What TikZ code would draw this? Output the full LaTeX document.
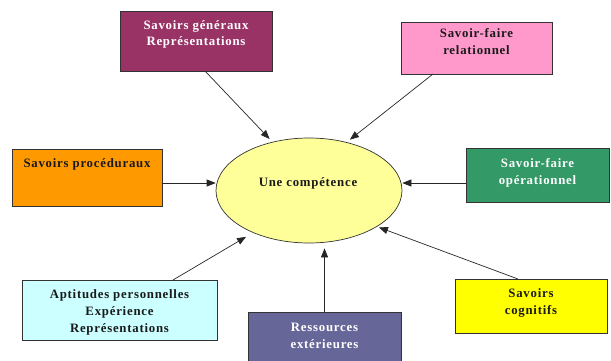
\documentclass[tikz,border=0pt]{standalone}
\usepackage{fontspec}
\setmainfont{Liberation Serif}[LetterSpace=6]
\usetikzlibrary{arrows.meta,shapes.geometric}
\definecolor{cB1}{HTML}{993366}
\definecolor{cB2}{HTML}{FF99CC}
\definecolor{cB3}{HTML}{FF9900}
\definecolor{cB4}{HTML}{339966}
\definecolor{cB5}{HTML}{CCFFFF}
\definecolor{cB6}{HTML}{666699}
\definecolor{cB7}{HTML}{FFFF00}
\definecolor{cE}{HTML}{FFFF99}
\definecolor{cT}{HTML}{1A1A1A}
\begin{document}
\begin{tikzpicture}[x=1pt,y=-1pt,
  box/.style={draw=black!80, line width=0.7pt, rectangle, inner sep=0pt, outer sep=0pt},
  lbl/.style={anchor=base, align=center, inner sep=0pt, text=cT, font=\bfseries\fontsize{12.8}{17}\selectfont},
  arr/.style={-{Triangle[length=9pt,width=7pt]}, line width=0.7pt, draw=black!85}]
\useasboundingbox (0,0) rectangle (611,361);
% boxes
\node[box, fill=cB1, minimum width=152, minimum height=60] (b1) at (196,41) {};
\node[box, fill=cB2, minimum width=151, minimum height=52] (b2) at (476.5,48) {};
\node[box, fill=cB3, minimum width=150, minimum height=57] (b3) at (87,177.5) {};
\node[box, fill=cB4, minimum width=143, minimum height=54] (b4) at (537.5,175) {};
\node[box, fill=cB5, minimum width=195, minimum height=60] (b5) at (119.5,310) {};
\node[box, fill=cB6, minimum width=153, minimum height=52] (b6) at (324.5,338) {};
\node[box, fill=cB7, minimum width=152, minimum height=54] (b7) at (531,306) {};
% ellipse
\node[ellipse, draw=black!80, line width=0.7pt, fill=cE, minimum width=186, minimum height=105, inner sep=0pt] (e) at (309,190.5) {};
% labels (anchor base = baseline of the last line)
\node[lbl, text=white] (t1) at ([yshift=-35pt]b1.north) {Savoirs généraux\\Représentations};
\node[lbl] (t2) at ([yshift=-33pt]b2.north) {Savoir-faire\\relationnel};
\node[lbl] (t3) at ([yshift=-18pt]b3.north) {Savoirs procéduraux};
\node[lbl, text=white] (t4) at ([yshift=-36pt]b4.north) {Savoir-faire\\opérationnel};
\node[lbl] (t5) at ([yshift=-52pt]b5.north) {Aptitudes personnelles\\Expérience\\Représentations};
\node[lbl, text=white] (t6) at ([yshift=-36pt]b6.north) {Ressources\\extérieures};
\node[lbl] (t7) at ([yshift=-35pt]b7.north) {Savoirs\\cognitifs};
\node[lbl] (te) at (308,186) {Une compétence};
% connectors
\coordinate (hy) at (0,183);
\draw[arr, shorten >=4pt] ([xshift=85pt]b1.south west) -- (e.127.1);
\draw[arr, shorten >=4pt] ([xshift=32pt]b2.south west) -- (e.52.9);
\draw[arr] (b3.east |- hy) -- (e.west |- hy);
\draw[arr] (b4.west |- hy) -- (e.east |- hy);
\draw[arr, shorten >=8pt] ([xshift=151pt]b5.north west) -- (e.217.5);
\draw[arr, shorten >=5pt] (b6.north) -- (b6.north |- e.south);
\draw[arr, shorten >=2pt] ([xshift=63pt]b7.north west) -- (e.332.8);
\end{tikzpicture}
\end{document}
